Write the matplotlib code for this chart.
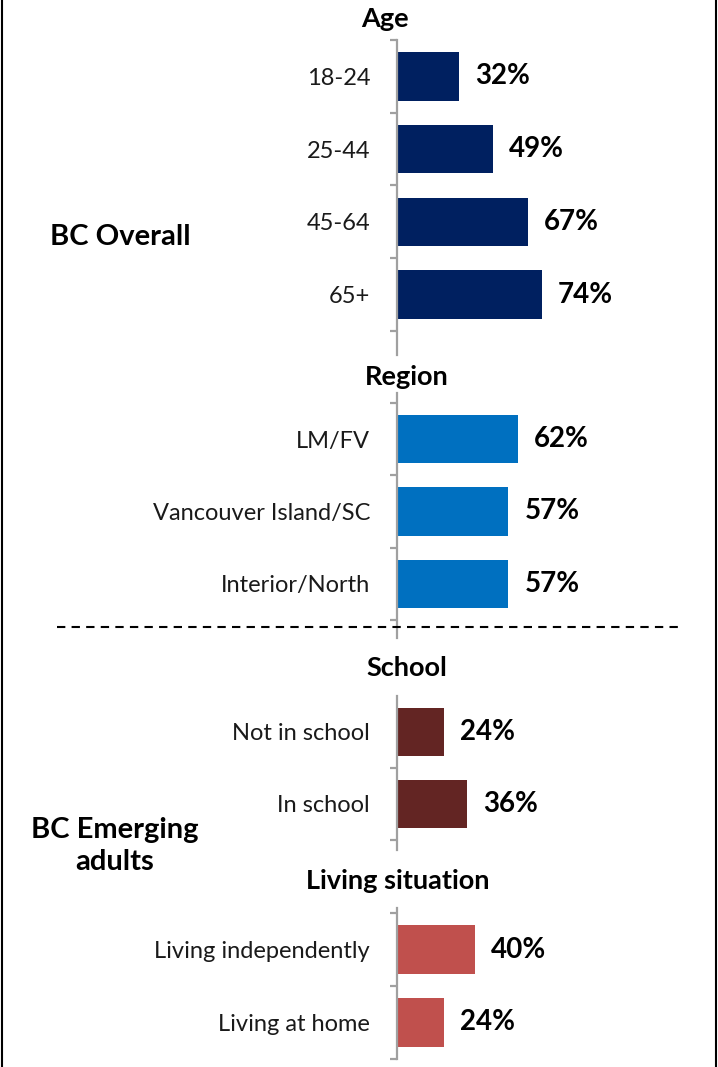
import matplotlib
matplotlib.use("Agg")
import matplotlib.pyplot as plt
from matplotlib.lines import Line2D

plt.rcParams['font.family'] = ['Lato', 'DejaVu Sans']

# data
age_labels = ['18-24', '25-44', '45-64', '65+']
age_values = [32, 49, 67, 74]
region_labels = ['LM/FV', 'Vancouver Island/SC', 'Interior/North']
region_values = [62, 57, 57]
school_labels = ['Not in school', 'In school']
school_values = [24, 36]
living_labels = ['Living independently', 'Living at home']
living_values = [40, 24]

W, H = 718, 1067
fig = plt.figure(figsize=(W / 100, H / 100), dpi=100)
fig.patch.set_facecolor('white')

AX_LEFT = 396.5      # pixel x of the value axis
PX_PER_PCT = 1.96    # pixels per percent
AX_GRAY = '#A0A0A0'


def fx(px):
    return px / W


def fy(py):
    return 1 - py / H


def group(title, title_x, title_y, labels, values, color, b0, step,
          top_extra=0, bot_extra=0, top_tick=True):
    # b0: pixel y of the first category boundary, step: pixels per category
    n = len(labels)
    y_top = b0 - top_extra
    y_bot = b0 + n * step + bot_extra
    ax = fig.add_axes([fx(AX_LEFT), fy(y_bot), fx(100 * PX_PER_PCT),
                       (y_bot - y_top) / H])
    ax.barh(range(n), values, height=0.67, color=color)
    ax.set_xlim(0, 100)
    ax.set_ylim(n - 0.5 + bot_extra / step, -0.5 - top_extra / step)
    for s in ['top', 'right', 'bottom']:
        ax.spines[s].set_visible(False)
    ax.spines['left'].set_color(AX_GRAY)
    ax.spines['left'].set_linewidth(1.6)
    ax.set_xticks([])
    ax.set_yticks(range(n))
    ax.set_yticklabels(labels, fontsize=17, color='#1a1a1a')
    ax.tick_params(axis='y', which='major', length=0, pad=19)
    bounds = [i - 0.5 for i in range(n + 1)]
    if not top_tick:
        bounds = bounds[1:]
    ax.set_yticks(bounds, minor=True)
    ax.tick_params(axis='y', which='minor', length=5, width=1.6,
                   color=AX_GRAY)
    ax.patch.set_alpha(0)
    for i, v in enumerate(values):
        ax.text(v + 8.2, i, f'{v}%', va='center', ha='left',
                fontsize=20, fontweight='bold', color='black')
    fig.text(fx(title_x), fy(title_y), title, ha='center', va='center',
             fontsize=19.5, fontweight='bold', color='black')
    return ax


group('Age', 385, 19, age_labels, age_values, '#002060',
      40, 72.75, bot_extra=24)
group('Region', 407, 377, region_labels, region_values, '#0070C0',
      403, 72.3, top_extra=10, bot_extra=18)
group('School', 407, 668, school_labels, school_values, '#632523',
      696, 72, bot_extra=10, top_tick=False)
group('Living situation', 398, 881, living_labels, living_values, '#C0504D',
      913, 73, top_extra=5)

fig.text(fx(50), fy(237), 'BC Overall', ha='left', va='center',
         fontsize=21, fontweight='bold')
fig.text(fx(115), fy(846), 'BC Emerging\nadults', ha='center', va='center',
         fontsize=21, fontweight='bold', linespacing=1.32)

# divider between the two populations
dash = Line2D([fx(57), fx(680)], [fy(627), fy(627)], transform=fig.transFigure,
              color='black', lw=1.5)
dash.set_dashes([4, 3])
fig.add_artist(dash)

# frame lines at left and right
for xp in [2, 716]:
    fig.add_artist(Line2D([fx(xp), fx(xp)], [0, 1], transform=fig.transFigure,
                          color='black', lw=1.5))

fig.savefig('out.png', dpi=100, facecolor='white')
